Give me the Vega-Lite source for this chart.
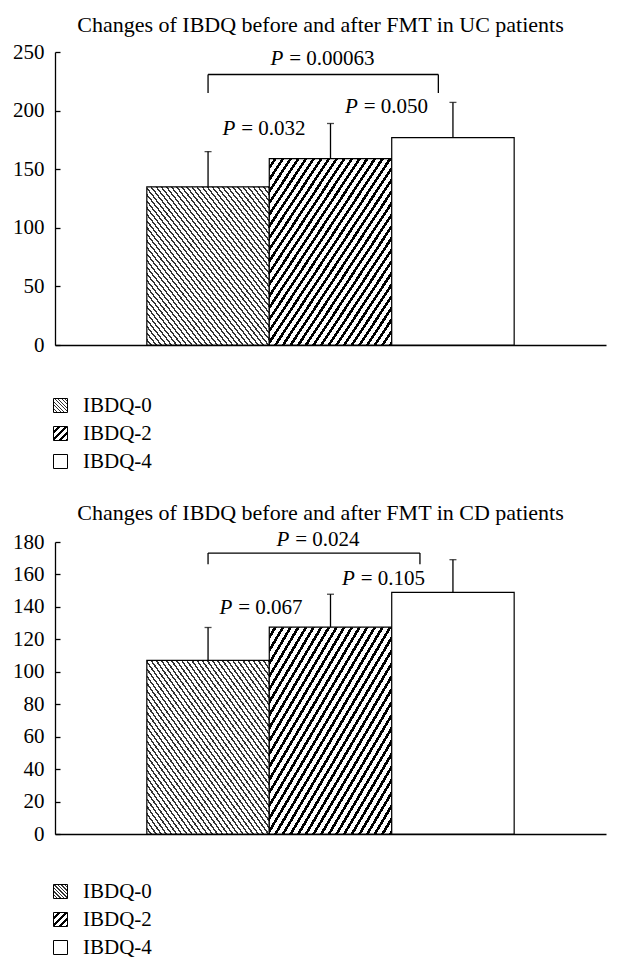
{
  "$schema": "https://vega.github.io/schema/vega-lite/v6.json",
  "background": "white",
  "padding": {"left": 0, "top": 14, "right": 5, "bottom": 0},
  "params": [
    {"name": "g0", "value": {"gradient": "linear", "x1": 0, "y1": 1, "x2": 1, "y2": 0, "stops": [
      {"offset": 0, "color": "#fff"}, {"offset": 0.0135, "color": "#fff"}, {"offset": 0.0135, "color": "#333"}, {"offset": 0.0208, "color": "#333"},
      {"offset": 0.0208, "color": "#fff"}, {"offset": 0.0344, "color": "#fff"}, {"offset": 0.0344, "color": "#333"}, {"offset": 0.0417, "color": "#333"},
      {"offset": 0.0417, "color": "#fff"}, {"offset": 0.0552, "color": "#fff"}, {"offset": 0.0552, "color": "#333"}, {"offset": 0.0625, "color": "#333"},
      {"offset": 0.0625, "color": "#fff"}, {"offset": 0.0760, "color": "#fff"}, {"offset": 0.0760, "color": "#333"}, {"offset": 0.0833, "color": "#333"},
      {"offset": 0.0833, "color": "#fff"}, {"offset": 0.0969, "color": "#fff"}, {"offset": 0.0969, "color": "#333"}, {"offset": 0.1042, "color": "#333"},
      {"offset": 0.1042, "color": "#fff"}, {"offset": 0.1177, "color": "#fff"}, {"offset": 0.1177, "color": "#333"}, {"offset": 0.125, "color": "#333"},
      {"offset": 0.125, "color": "#fff"}, {"offset": 0.1385, "color": "#fff"}, {"offset": 0.1385, "color": "#333"}, {"offset": 0.1458, "color": "#333"},
      {"offset": 0.1458, "color": "#fff"}, {"offset": 0.1594, "color": "#fff"}, {"offset": 0.1594, "color": "#333"}, {"offset": 0.1667, "color": "#333"},
      {"offset": 0.1667, "color": "#fff"}, {"offset": 0.1802, "color": "#fff"}, {"offset": 0.1802, "color": "#333"}, {"offset": 0.1875, "color": "#333"},
      {"offset": 0.1875, "color": "#fff"}, {"offset": 0.2010, "color": "#fff"}, {"offset": 0.2010, "color": "#333"}, {"offset": 0.2083, "color": "#333"},
      {"offset": 0.2083, "color": "#fff"}, {"offset": 0.2219, "color": "#fff"}, {"offset": 0.2219, "color": "#333"}, {"offset": 0.2292, "color": "#333"},
      {"offset": 0.2292, "color": "#fff"}, {"offset": 0.2427, "color": "#fff"}, {"offset": 0.2427, "color": "#333"}, {"offset": 0.25, "color": "#333"},
      {"offset": 0.25, "color": "#fff"}, {"offset": 0.2635, "color": "#fff"}, {"offset": 0.2635, "color": "#333"}, {"offset": 0.2708, "color": "#333"},
      {"offset": 0.2708, "color": "#fff"}, {"offset": 0.2844, "color": "#fff"}, {"offset": 0.2844, "color": "#333"}, {"offset": 0.2917, "color": "#333"},
      {"offset": 0.2917, "color": "#fff"}, {"offset": 0.3052, "color": "#fff"}, {"offset": 0.3052, "color": "#333"}, {"offset": 0.3125, "color": "#333"},
      {"offset": 0.3125, "color": "#fff"}, {"offset": 0.3260, "color": "#fff"}, {"offset": 0.3260, "color": "#333"}, {"offset": 0.3333, "color": "#333"},
      {"offset": 0.3333, "color": "#fff"}, {"offset": 0.3469, "color": "#fff"}, {"offset": 0.3469, "color": "#333"}, {"offset": 0.3542, "color": "#333"},
      {"offset": 0.3542, "color": "#fff"}, {"offset": 0.3677, "color": "#fff"}, {"offset": 0.3677, "color": "#333"}, {"offset": 0.375, "color": "#333"},
      {"offset": 0.375, "color": "#fff"}, {"offset": 0.3885, "color": "#fff"}, {"offset": 0.3885, "color": "#333"}, {"offset": 0.3958, "color": "#333"},
      {"offset": 0.3958, "color": "#fff"}, {"offset": 0.4094, "color": "#fff"}, {"offset": 0.4094, "color": "#333"}, {"offset": 0.4167, "color": "#333"},
      {"offset": 0.4167, "color": "#fff"}, {"offset": 0.4302, "color": "#fff"}, {"offset": 0.4302, "color": "#333"}, {"offset": 0.4375, "color": "#333"},
      {"offset": 0.4375, "color": "#fff"}, {"offset": 0.4510, "color": "#fff"}, {"offset": 0.4510, "color": "#333"}, {"offset": 0.4583, "color": "#333"},
      {"offset": 0.4583, "color": "#fff"}, {"offset": 0.4719, "color": "#fff"}, {"offset": 0.4719, "color": "#333"}, {"offset": 0.4792, "color": "#333"},
      {"offset": 0.4792, "color": "#fff"}, {"offset": 0.4927, "color": "#fff"}, {"offset": 0.4927, "color": "#333"}, {"offset": 0.5, "color": "#333"},
      {"offset": 0.5, "color": "#fff"}, {"offset": 0.5135, "color": "#fff"}, {"offset": 0.5135, "color": "#333"}, {"offset": 0.5208, "color": "#333"},
      {"offset": 0.5208, "color": "#fff"}, {"offset": 0.5344, "color": "#fff"}, {"offset": 0.5344, "color": "#333"}, {"offset": 0.5417, "color": "#333"},
      {"offset": 0.5417, "color": "#fff"}, {"offset": 0.5552, "color": "#fff"}, {"offset": 0.5552, "color": "#333"}, {"offset": 0.5625, "color": "#333"},
      {"offset": 0.5625, "color": "#fff"}, {"offset": 0.5760, "color": "#fff"}, {"offset": 0.5760, "color": "#333"}, {"offset": 0.5833, "color": "#333"},
      {"offset": 0.5833, "color": "#fff"}, {"offset": 0.5969, "color": "#fff"}, {"offset": 0.5969, "color": "#333"}, {"offset": 0.6042, "color": "#333"},
      {"offset": 0.6042, "color": "#fff"}, {"offset": 0.6177, "color": "#fff"}, {"offset": 0.6177, "color": "#333"}, {"offset": 0.625, "color": "#333"},
      {"offset": 0.625, "color": "#fff"}, {"offset": 0.6385, "color": "#fff"}, {"offset": 0.6385, "color": "#333"}, {"offset": 0.6458, "color": "#333"},
      {"offset": 0.6458, "color": "#fff"}, {"offset": 0.6594, "color": "#fff"}, {"offset": 0.6594, "color": "#333"}, {"offset": 0.6667, "color": "#333"},
      {"offset": 0.6667, "color": "#fff"}, {"offset": 0.6802, "color": "#fff"}, {"offset": 0.6802, "color": "#333"}, {"offset": 0.6875, "color": "#333"},
      {"offset": 0.6875, "color": "#fff"}, {"offset": 0.7010, "color": "#fff"}, {"offset": 0.7010, "color": "#333"}, {"offset": 0.7083, "color": "#333"},
      {"offset": 0.7083, "color": "#fff"}, {"offset": 0.7219, "color": "#fff"}, {"offset": 0.7219, "color": "#333"}, {"offset": 0.7292, "color": "#333"},
      {"offset": 0.7292, "color": "#fff"}, {"offset": 0.7427, "color": "#fff"}, {"offset": 0.7427, "color": "#333"}, {"offset": 0.75, "color": "#333"},
      {"offset": 0.75, "color": "#fff"}, {"offset": 0.7635, "color": "#fff"}, {"offset": 0.7635, "color": "#333"}, {"offset": 0.7708, "color": "#333"},
      {"offset": 0.7708, "color": "#fff"}, {"offset": 0.7844, "color": "#fff"}, {"offset": 0.7844, "color": "#333"}, {"offset": 0.7917, "color": "#333"},
      {"offset": 0.7917, "color": "#fff"}, {"offset": 0.8052, "color": "#fff"}, {"offset": 0.8052, "color": "#333"}, {"offset": 0.8125, "color": "#333"},
      {"offset": 0.8125, "color": "#fff"}, {"offset": 0.8260, "color": "#fff"}, {"offset": 0.8260, "color": "#333"}, {"offset": 0.8333, "color": "#333"},
      {"offset": 0.8333, "color": "#fff"}, {"offset": 0.8469, "color": "#fff"}, {"offset": 0.8469, "color": "#333"}, {"offset": 0.8542, "color": "#333"},
      {"offset": 0.8542, "color": "#fff"}, {"offset": 0.8677, "color": "#fff"}, {"offset": 0.8677, "color": "#333"}, {"offset": 0.875, "color": "#333"},
      {"offset": 0.875, "color": "#fff"}, {"offset": 0.8885, "color": "#fff"}, {"offset": 0.8885, "color": "#333"}, {"offset": 0.8958, "color": "#333"},
      {"offset": 0.8958, "color": "#fff"}, {"offset": 0.9094, "color": "#fff"}, {"offset": 0.9094, "color": "#333"}, {"offset": 0.9167, "color": "#333"},
      {"offset": 0.9167, "color": "#fff"}, {"offset": 0.9302, "color": "#fff"}, {"offset": 0.9302, "color": "#333"}, {"offset": 0.9375, "color": "#333"},
      {"offset": 0.9375, "color": "#fff"}, {"offset": 0.9510, "color": "#fff"}, {"offset": 0.9510, "color": "#333"}, {"offset": 0.9583, "color": "#333"},
      {"offset": 0.9583, "color": "#fff"}, {"offset": 0.9719, "color": "#fff"}, {"offset": 0.9719, "color": "#333"}, {"offset": 0.9792, "color": "#333"},
      {"offset": 0.9792, "color": "#fff"}, {"offset": 0.9927, "color": "#fff"}, {"offset": 0.9927, "color": "#333"}, {"offset": 1, "color": "#333"}
    ]}},
    {"name": "g2", "value": {"gradient": "linear", "x1": 0, "y1": 0, "x2": 1, "y2": 1, "stops": [
      {"offset": 0, "color": "#fff"}, {"offset": 0.01875, "color": "#fff"}, {"offset": 0.01875, "color": "#000"}, {"offset": 0.03125, "color": "#000"},
      {"offset": 0.03125, "color": "#fff"}, {"offset": 0.05, "color": "#fff"}, {"offset": 0.05, "color": "#000"}, {"offset": 0.0625, "color": "#000"},
      {"offset": 0.0625, "color": "#fff"}, {"offset": 0.08125, "color": "#fff"}, {"offset": 0.08125, "color": "#000"}, {"offset": 0.09375, "color": "#000"},
      {"offset": 0.09375, "color": "#fff"}, {"offset": 0.1125, "color": "#fff"}, {"offset": 0.1125, "color": "#000"}, {"offset": 0.125, "color": "#000"},
      {"offset": 0.125, "color": "#fff"}, {"offset": 0.14375, "color": "#fff"}, {"offset": 0.14375, "color": "#000"}, {"offset": 0.15625, "color": "#000"},
      {"offset": 0.15625, "color": "#fff"}, {"offset": 0.175, "color": "#fff"}, {"offset": 0.175, "color": "#000"}, {"offset": 0.1875, "color": "#000"},
      {"offset": 0.1875, "color": "#fff"}, {"offset": 0.20625, "color": "#fff"}, {"offset": 0.20625, "color": "#000"}, {"offset": 0.21875, "color": "#000"},
      {"offset": 0.21875, "color": "#fff"}, {"offset": 0.2375, "color": "#fff"}, {"offset": 0.2375, "color": "#000"}, {"offset": 0.25, "color": "#000"},
      {"offset": 0.25, "color": "#fff"}, {"offset": 0.26875, "color": "#fff"}, {"offset": 0.26875, "color": "#000"}, {"offset": 0.28125, "color": "#000"},
      {"offset": 0.28125, "color": "#fff"}, {"offset": 0.3, "color": "#fff"}, {"offset": 0.3, "color": "#000"}, {"offset": 0.3125, "color": "#000"},
      {"offset": 0.3125, "color": "#fff"}, {"offset": 0.33125, "color": "#fff"}, {"offset": 0.33125, "color": "#000"}, {"offset": 0.34375, "color": "#000"},
      {"offset": 0.34375, "color": "#fff"}, {"offset": 0.3625, "color": "#fff"}, {"offset": 0.3625, "color": "#000"}, {"offset": 0.375, "color": "#000"},
      {"offset": 0.375, "color": "#fff"}, {"offset": 0.39375, "color": "#fff"}, {"offset": 0.39375, "color": "#000"}, {"offset": 0.40625, "color": "#000"},
      {"offset": 0.40625, "color": "#fff"}, {"offset": 0.425, "color": "#fff"}, {"offset": 0.425, "color": "#000"}, {"offset": 0.4375, "color": "#000"},
      {"offset": 0.4375, "color": "#fff"}, {"offset": 0.45625, "color": "#fff"}, {"offset": 0.45625, "color": "#000"}, {"offset": 0.46875, "color": "#000"},
      {"offset": 0.46875, "color": "#fff"}, {"offset": 0.4875, "color": "#fff"}, {"offset": 0.4875, "color": "#000"}, {"offset": 0.5, "color": "#000"},
      {"offset": 0.5, "color": "#fff"}, {"offset": 0.51875, "color": "#fff"}, {"offset": 0.51875, "color": "#000"}, {"offset": 0.53125, "color": "#000"},
      {"offset": 0.53125, "color": "#fff"}, {"offset": 0.55, "color": "#fff"}, {"offset": 0.55, "color": "#000"}, {"offset": 0.5625, "color": "#000"},
      {"offset": 0.5625, "color": "#fff"}, {"offset": 0.58125, "color": "#fff"}, {"offset": 0.58125, "color": "#000"}, {"offset": 0.59375, "color": "#000"},
      {"offset": 0.59375, "color": "#fff"}, {"offset": 0.6125, "color": "#fff"}, {"offset": 0.6125, "color": "#000"}, {"offset": 0.625, "color": "#000"},
      {"offset": 0.625, "color": "#fff"}, {"offset": 0.64375, "color": "#fff"}, {"offset": 0.64375, "color": "#000"}, {"offset": 0.65625, "color": "#000"},
      {"offset": 0.65625, "color": "#fff"}, {"offset": 0.675, "color": "#fff"}, {"offset": 0.675, "color": "#000"}, {"offset": 0.6875, "color": "#000"},
      {"offset": 0.6875, "color": "#fff"}, {"offset": 0.70625, "color": "#fff"}, {"offset": 0.70625, "color": "#000"}, {"offset": 0.71875, "color": "#000"},
      {"offset": 0.71875, "color": "#fff"}, {"offset": 0.7375, "color": "#fff"}, {"offset": 0.7375, "color": "#000"}, {"offset": 0.75, "color": "#000"},
      {"offset": 0.75, "color": "#fff"}, {"offset": 0.76875, "color": "#fff"}, {"offset": 0.76875, "color": "#000"}, {"offset": 0.78125, "color": "#000"},
      {"offset": 0.78125, "color": "#fff"}, {"offset": 0.8, "color": "#fff"}, {"offset": 0.8, "color": "#000"}, {"offset": 0.8125, "color": "#000"},
      {"offset": 0.8125, "color": "#fff"}, {"offset": 0.83125, "color": "#fff"}, {"offset": 0.83125, "color": "#000"}, {"offset": 0.84375, "color": "#000"},
      {"offset": 0.84375, "color": "#fff"}, {"offset": 0.8625, "color": "#fff"}, {"offset": 0.8625, "color": "#000"}, {"offset": 0.875, "color": "#000"},
      {"offset": 0.875, "color": "#fff"}, {"offset": 0.89375, "color": "#fff"}, {"offset": 0.89375, "color": "#000"}, {"offset": 0.90625, "color": "#000"},
      {"offset": 0.90625, "color": "#fff"}, {"offset": 0.925, "color": "#fff"}, {"offset": 0.925, "color": "#000"}, {"offset": 0.9375, "color": "#000"},
      {"offset": 0.9375, "color": "#fff"}, {"offset": 0.95625, "color": "#fff"}, {"offset": 0.95625, "color": "#000"}, {"offset": 0.96875, "color": "#000"},
      {"offset": 0.96875, "color": "#fff"}, {"offset": 0.9875, "color": "#fff"}, {"offset": 0.9875, "color": "#000"}, {"offset": 1, "color": "#000"}
    ]}}
  ],
  "config": {
    "font": "Liberation Serif",
    "view": {"stroke": null},
    "axis": {"labelFont": "Liberation Serif", "labelFontSize": 21, "labelColor": "black", "domainColor": "black", "tickColor": "black", "domainWidth": 1.3, "tickWidth": 1.3, "grid": false, "labelOverlap": false, "labelSeparation": -60, "labelBound": false},
    "title": {"font": "Liberation Serif", "fontSize": 22, "fontWeight": "normal", "color": "black", "offset": 4, "dx": -10},
    "legend": {"orient": "none", "title": null, "direction": "vertical", "symbolType": "square", "symbolSize": 196, "symbolStrokeColor": "black", "symbolStrokeWidth": 1, "labelFont": "Liberation Serif", "labelFontSize": 21, "labelColor": "black", "rowPadding": 6, "labelOffset": 12, "padding": 0}
  },
  "resolve": {"scale": {"fill": "independent"}, "legend": {"fill": "independent"}},
  "spacing": 30,
  "vconcat": [
    {
      "title": "Changes of IBDQ before and after FMT in UC patients",
      "width": 551,
      "height": 293,
      "data": {"values": [
        {"group": "IBDQ-0", "mean": 135, "upper": 165},
        {"group": "IBDQ-2", "mean": 159, "upper": 189},
        {"group": "IBDQ-4", "mean": 177, "upper": 207}
      ]},
      "layer": [
        {
          "mark": {"type": "bar", "stroke": "black", "strokeWidth": 1.2},
          "encoding": {
            "x": {"field": "group", "type": "nominal", "scale": {"domain": ["IBDQ-0", "IBDQ-2", "IBDQ-4"], "paddingInner": 0, "paddingOuter": 0.75}, "axis": {"labels": false, "ticks": false, "title": null}},
            "y": {"field": "mean", "type": "quantitative", "scale": {"domain": [0, 250], "nice": false}, "axis": {"values": [0, 50, 100, 150, 200, 250], "labelOverlap": false, "tickSize": -5, "labelPadding": 16, "minExtent": 55, "maxExtent": 55, "title": null}},
            "fill": {"field": "group", "type": "nominal", "scale": {"domain": ["IBDQ-0", "IBDQ-2", "IBDQ-4"], "range": [{"expr": "g0"}, {"expr": "g2"}, "#ffffff"]}, "legend": {"legendX": -5, "legendY": 343}}
          }
        },
        {
          "mark": {"type": "rule", "color": "black", "strokeWidth": 1.3},
          "encoding": {"x": {"field": "group", "type": "nominal"}, "y": {"field": "mean", "type": "quantitative"}, "y2": {"field": "upper"}}
        },
        {
          "mark": {"type": "tick", "color": "black", "size": 7, "thickness": 1.3},
          "encoding": {"x": {"field": "group", "type": "nominal"}, "y": {"field": "upper", "type": "quantitative"}}
        },
        {
          "data": {"values": [{"a": "IBDQ-0", "b": "IBDQ-4", "top": 230.8, "bot": 215.1}]},
          "layer": [
            {"mark": {"type": "rule", "color": "black", "strokeWidth": 1.3, "x2Offset": -14.6}, "encoding": {"x": {"field": "a", "type": "nominal"}, "x2": {"field": "b"}, "y": {"field": "top", "type": "quantitative"}}},
            {"mark": {"type": "rule", "color": "black", "strokeWidth": 1.3}, "encoding": {"x": {"field": "a", "type": "nominal"}, "y": {"field": "bot", "type": "quantitative"}, "y2": {"field": "top"}}},
            {"mark": {"type": "rule", "color": "black", "strokeWidth": 1.3, "xOffset": -14.6}, "encoding": {"x": {"field": "b", "type": "nominal"}, "y": {"field": "bot", "type": "quantitative"}, "y2": {"field": "top"}}}
          ]
        },
        {
          "data": {"values": [{"a": "IBDQ-0", "y": 179, "rest": "= 0.032"}, {"a": "IBDQ-2", "y": 198, "rest": "= 0.050"}]},
          "layer": [
            {"mark": {"type": "text", "text": "P", "fontStyle": "italic", "align": "right", "baseline": "alphabetic", "dx": -34, "fontSize": 21, "font": "Liberation Serif", "color": "black"}, "encoding": {"x": {"field": "a", "type": "nominal", "bandPosition": 1}, "y": {"field": "y", "type": "quantitative"}}},
            {"mark": {"type": "text", "align": "left", "baseline": "alphabetic", "dx": -28, "fontSize": 21, "font": "Liberation Serif", "color": "black"}, "encoding": {"x": {"field": "a", "type": "nominal", "bandPosition": 1}, "y": {"field": "y", "type": "quantitative"}, "text": {"field": "rest"}}}
          ]
        },
        {
          "data": {"values": [{"a": "IBDQ-0", "y": 238.7, "rest": "= 0.00063"}]},
          "layer": [
            {"mark": {"type": "text", "text": "P", "fontStyle": "italic", "align": "right", "baseline": "alphabetic", "dx": 14, "fontSize": 21, "font": "Liberation Serif", "color": "black"}, "encoding": {"x": {"field": "a", "type": "nominal", "bandPosition": 1}, "y": {"field": "y", "type": "quantitative"}}},
            {"mark": {"type": "text", "align": "left", "baseline": "alphabetic", "dx": 20, "fontSize": 21, "font": "Liberation Serif", "color": "black"}, "encoding": {"x": {"field": "a", "type": "nominal", "bandPosition": 1}, "y": {"field": "y", "type": "quantitative"}, "text": {"field": "rest"}}}
          ]
        }
      ]
    },
    {
      "title": "Changes of IBDQ before and after FMT in CD patients",
      "width": 551,
      "height": 292,
      "data": {"values": [
        {"group": "IBDQ-0", "mean": 107, "upper": 127.3},
        {"group": "IBDQ-2", "mean": 127.5, "upper": 147.8},
        {"group": "IBDQ-4", "mean": 149, "upper": 169.1}
      ]},
      "layer": [
        {
          "mark": {"type": "bar", "stroke": "black", "strokeWidth": 1.2},
          "encoding": {
            "x": {"field": "group", "type": "nominal", "scale": {"domain": ["IBDQ-0", "IBDQ-2", "IBDQ-4"], "paddingInner": 0, "paddingOuter": 0.75}, "axis": {"labels": false, "ticks": false, "title": null}},
            "y": {"field": "mean", "type": "quantitative", "scale": {"domain": [0, 180], "nice": false}, "axis": {"values": [0, 20, 40, 60, 80, 100, 120, 140, 160, 180], "tickCount": 10, "labelOverlap": false, "labelSeparation": -60, "tickSize": -5, "labelPadding": 16, "minExtent": 55, "maxExtent": 55, "title": null}},
            "fill": {"field": "group", "type": "nominal", "scale": {"domain": ["IBDQ-0", "IBDQ-2", "IBDQ-4"], "range": [{"expr": "g0"}, {"expr": "g2"}, "#ffffff"]}, "legend": {"legendX": -5, "legendY": 339}}
          }
        },
        {
          "mark": {"type": "rule", "color": "black", "strokeWidth": 1.3},
          "encoding": {"x": {"field": "group", "type": "nominal"}, "y": {"field": "mean", "type": "quantitative"}, "y2": {"field": "upper"}}
        },
        {
          "mark": {"type": "tick", "color": "black", "size": 7, "thickness": 1.3},
          "encoding": {"x": {"field": "group", "type": "nominal"}, "y": {"field": "upper", "type": "quantitative"}}
        },
        {
          "data": {"values": [{"a": "IBDQ-0", "b": "IBDQ-4", "top": 173.2, "bot": 166.3}]},
          "layer": [
            {"mark": {"type": "rule", "color": "black", "strokeWidth": 1.3, "x2Offset": -33}, "encoding": {"x": {"field": "a", "type": "nominal"}, "x2": {"field": "b"}, "y": {"field": "top", "type": "quantitative"}}},
            {"mark": {"type": "rule", "color": "black", "strokeWidth": 1.3}, "encoding": {"x": {"field": "a", "type": "nominal"}, "y": {"field": "bot", "type": "quantitative"}, "y2": {"field": "top"}}},
            {"mark": {"type": "rule", "color": "black", "strokeWidth": 1.3, "xOffset": -33}, "encoding": {"x": {"field": "b", "type": "nominal"}, "y": {"field": "bot", "type": "quantitative"}, "y2": {"field": "top"}}}
          ]
        },
        {
          "data": {"values": [{"a": "IBDQ-0", "y": 135.9, "rest": "= 0.067"}, {"a": "IBDQ-2", "y": 153.3, "rest": "= 0.105"}]},
          "layer": [
            {"mark": {"type": "text", "text": "P", "fontStyle": "italic", "align": "right", "baseline": "alphabetic", "dx": -37, "fontSize": 21, "font": "Liberation Serif", "color": "black"}, "encoding": {"x": {"field": "a", "type": "nominal", "bandPosition": 1}, "y": {"field": "y", "type": "quantitative"}}},
            {"mark": {"type": "text", "align": "left", "baseline": "alphabetic", "dx": -31, "fontSize": 21, "font": "Liberation Serif", "color": "black"}, "encoding": {"x": {"field": "a", "type": "nominal", "bandPosition": 1}, "y": {"field": "y", "type": "quantitative"}, "text": {"field": "rest"}}}
          ]
        },
        {
          "data": {"values": [{"a": "IBDQ-0", "y": 177.3, "rest": "= 0.024"}]},
          "layer": [
            {"mark": {"type": "text", "text": "P", "fontStyle": "italic", "align": "right", "baseline": "alphabetic", "dx": 20, "fontSize": 21, "font": "Liberation Serif", "color": "black"}, "encoding": {"x": {"field": "a", "type": "nominal", "bandPosition": 1}, "y": {"field": "y", "type": "quantitative"}}},
            {"mark": {"type": "text", "align": "left", "baseline": "alphabetic", "dx": 26, "fontSize": 21, "font": "Liberation Serif", "color": "black"}, "encoding": {"x": {"field": "a", "type": "nominal", "bandPosition": 1}, "y": {"field": "y", "type": "quantitative"}, "text": {"field": "rest"}}}
          ]
        }
      ]
    }
  ]
}
